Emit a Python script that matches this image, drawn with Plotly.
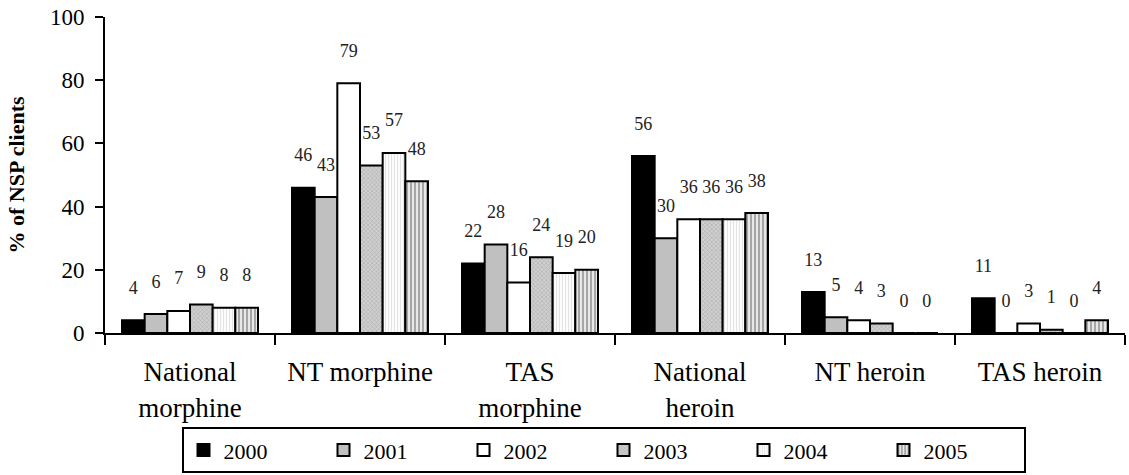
import plotly.graph_objects as go

categories = ["National<br>morphine", "NT morphine", "TAS<br>morphine",
              "National<br>heroin", "NT heroin", "TAS heroin"]
years = ["2000", "2001", "2002", "2003", "2004", "2005"]

v2000 = [4, 46, 22, 56, 13, 11]
v2001 = [6, 43, 28, 30, 5, 0]
v2002 = [7, 79, 16, 36, 4, 3]
v2003 = [9, 53, 24, 36, 3, 1]
v2004 = [8, 57, 19, 36, 0, 0]
v2005 = [8, 48, 20, 38, 0, 4]
series = [v2000, v2001, v2002, v2003, v2004, v2005]

FONT = "Liberation Serif, Times New Roman, serif"

styles = [
    dict(color="#000000"),
    dict(color="#c0c0c0"),
    dict(color="#ffffff"),
    dict(color="#c8c8c8", pattern=dict(shape="x", fgcolor="#7a7a7a", bgcolor="#d0d0d0", size=3, solidity=0.3)),
    dict(color="#ffffff", pattern=dict(shape="|", fgcolor="#c8c8c8", bgcolor="#ffffff", size=3, solidity=0.4)),
    dict(color="#e0e0e0", pattern=dict(shape="|", fgcolor="#555555", bgcolor="#e8e8e8", size=4, solidity=0.45)),
]

fig = go.Figure()
for yr, vals, st in zip(years, series, styles):
    marker = dict(line=dict(color="black", width=2))
    marker["color"] = st["color"]
    if "pattern" in st:
        marker["pattern"] = st["pattern"]
    fig.add_trace(go.Bar(
        x=categories, y=vals, name=yr, marker=marker,
        text=vals,
        texttemplate="%{y}<br><span style='font-size:2px'> </span>",
        textposition="outside", textangle=0, constraintext="none",
        cliponaxis=False,
        textfont=dict(family=FONT, size=18, color="#222"),
    ))

fig.update_layout(
    width=1129, height=475,
    margin=dict(l=105, r=4, t=17, b=142, autoexpand=False),
    paper_bgcolor="white", plot_bgcolor="white",
    barmode="group", bargap=0.2, bargroupgap=0,
    font=dict(family=FONT, color="black"),
    showlegend=True,
    legend=dict(
        orientation="h", x=0.075, xanchor="left", y=-0.298, yanchor="top",
        bordercolor="black", borderwidth=2, bgcolor="white",
        font=dict(family=FONT, size=22, color="black"),
        entrywidth=95, entrywidthmode="pixels",
        traceorder="normal",
    ),
    xaxis=dict(
        type="category", showline=True, linecolor="black", linewidth=2,
        ticks="outside", tickson="boundaries", ticklen=10, tickwidth=2, tickcolor="black",
        tickfont=dict(family=FONT, size=27, color="black"),
        ticklabelstandoff=14,
        showgrid=False, zeroline=False, automargin=False,
    ),
    yaxis=dict(
        range=[0, 100], dtick=20, showline=True, linecolor="black", linewidth=2,
        ticks="outside", ticklen=8, tickwidth=2, tickcolor="black",
        tickfont=dict(family=FONT, size=23, color="black"),
        ticklabelstandoff=6,
        showgrid=False, zeroline=False, automargin=False,
        title=dict(text="<b>% of NSP clients</b>", font=dict(family=FONT, size=22, color="black"), standoff=19),
    ),
)

fig.write_html("out.html", config={"displayModeBar": False},
               post_script="document.body.style.margin='0';document.body.style.overflow='hidden';")
